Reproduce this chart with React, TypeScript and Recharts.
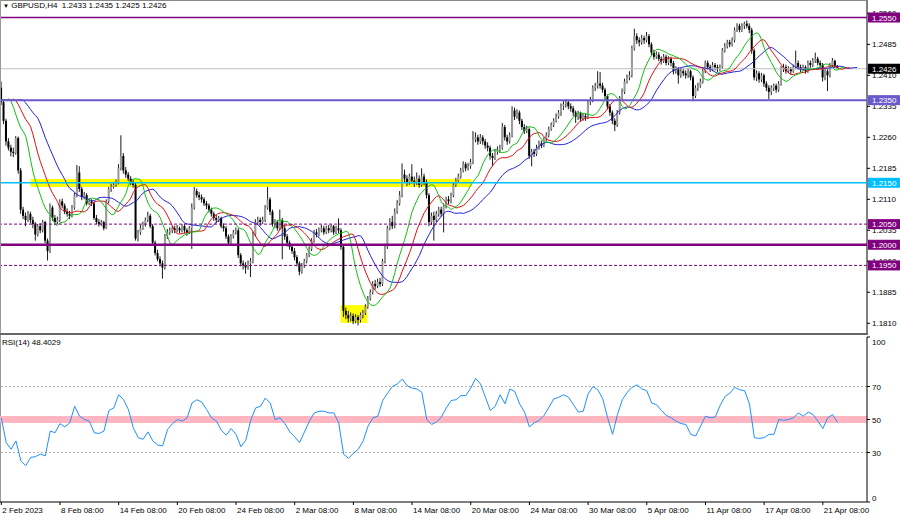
import React from 'react';
import { ComposedChart, Bar, Line, XAxis, YAxis, ReferenceLine, ReferenceArea } from 'recharts';

const symbolName = 'GBPUSD,H4';
const firstOpen = 1.238;

const closes = [
  1.2345,1.2300,1.2250,1.2235,1.2225,1.2222,1.2258,1.2180,1.2085,1.2070,
  1.2060,1.2075,1.2060,1.2050,1.2025,1.2045,1.2035,1.2055,1.2010,1.1985,
  1.2090,1.2065,1.2055,1.2060,1.2105,1.2095,1.2080,1.2075,1.2070,1.2090,
  1.2120,1.2175,1.2135,1.2115,1.2120,1.2100,1.2105,1.2100,1.2065,1.2055,
  1.2050,1.2055,1.2040,1.2105,1.2135,1.2140,1.2145,1.2150,1.2185,1.2215,
  1.2180,1.2170,1.2160,1.2150,1.2145,1.2015,1.2030,1.2040,1.2050,1.2060,
  1.2070,1.2045,1.2005,1.1980,1.1965,1.1955,1.1945,1.2020,1.2030,1.2035,
  1.2040,1.2035,1.2040,1.2035,1.2045,1.2035,1.2030,1.2040,1.2090,1.2130,
  1.2120,1.2115,1.2110,1.2100,1.2095,1.2085,1.2075,1.2065,1.2060,1.2065,
  1.2045,1.2040,1.2020,1.2005,1.2020,1.2030,1.2035,1.1975,1.1955,1.1950,
  1.1945,1.1955,1.1960,1.2025,1.2055,1.2060,1.2055,1.2060,1.2090,1.2110,
  1.2080,1.2050,1.2055,1.2040,1.2060,1.2040,1.2020,1.2005,1.1995,1.1985,
  1.1970,1.1955,1.1935,1.1950,1.1960,1.1975,1.1990,1.2010,1.2030,1.2025,
  1.2035,1.2040,1.2030,1.2040,1.2035,1.2045,1.2030,1.2040,1.2035,1.1995,
  1.1840,1.1830,1.1822,1.1828,1.1815,1.1825,1.1818,1.1830,1.1835,1.1850,
  1.1870,1.1885,1.1905,1.1900,1.1910,1.1905,1.1960,1.1995,1.2040,1.2055,
  1.2045,1.2080,1.2100,1.2120,1.2170,1.2160,1.2150,1.2165,1.2155,1.2150,
  1.2160,1.2145,1.2165,1.2150,1.2120,1.2055,1.2070,1.2060,1.2075,1.2085,
  1.2075,1.2095,1.2110,1.2105,1.2120,1.2145,1.2155,1.2165,1.2180,1.2195,
  1.2185,1.2190,1.2200,1.2255,1.2260,1.2250,1.2260,1.2250,1.2240,1.2235,
  1.2215,1.2210,1.2225,1.2230,1.2235,1.2285,1.2260,1.2250,1.2265,1.2325,
  1.2310,1.2320,1.2300,1.2285,1.2275,1.2280,1.2215,1.2225,1.2220,1.2235,
  1.2245,1.2240,1.2255,1.2265,1.2280,1.2290,1.2300,1.2310,1.2320,1.2335,
  1.2340,1.2345,1.2335,1.2330,1.2320,1.2310,1.2318,1.2305,1.2312,1.2308,
  1.2345,1.2350,1.2380,1.2385,1.2390,1.2385,1.2375,1.2360,1.2335,1.2320,
  1.2300,1.2290,1.2320,1.2355,1.2370,1.2395,1.2405,1.2410,1.2475,1.2505,
  1.2495,1.2490,1.2500,1.2495,1.2505,1.2485,1.2465,1.2455,1.2460,1.2450,
  1.2445,1.2455,1.2440,1.2450,1.2440,1.2420,1.2425,1.2410,1.2420,1.2415,
  1.2410,1.2420,1.2405,1.2360,1.2380,1.2385,1.2395,1.2420,1.2440,1.2430,
  1.2425,1.2435,1.2430,1.2425,1.2430,1.2470,1.2480,1.2490,1.2485,1.2495,
  1.2520,1.2530,1.2520,1.2530,1.2535,1.2530,1.2520,1.2470,1.2405,1.2415,
  1.2400,1.2410,1.2390,1.2380,1.2370,1.2380,1.2385,1.2375,1.2390,1.2425,
  1.2430,1.2420,1.2425,1.2420,1.2430,1.2440,1.2430,1.2425,1.2430,1.2420,
  1.2440,1.2435,1.2445,1.2450,1.2440,1.2435,1.2405,1.2420,1.2410,1.2435,
  1.2445,1.2433,1.2426,
];

const highs = [
  1.2395,1.2352,1.2305,1.2258,1.2242,1.2235,1.2263,1.2262,1.2186,1.2092,
  1.2078,1.2082,1.2080,1.2068,1.2055,1.2050,1.2052,1.2060,1.2058,1.2015,
  1.2100,1.2095,1.2072,1.2068,1.2110,1.2112,1.2100,1.2088,1.2082,1.2096,
  1.2126,1.2193,1.2190,1.2140,1.2128,1.2125,1.2112,1.2110,1.2104,1.2072,
  1.2062,1.2060,1.2058,1.2110,1.2140,1.2148,1.2152,1.2158,1.2195,1.2265,
  1.2222,1.2188,1.2176,1.2166,1.2158,1.2150,1.2036,1.2048,1.2056,1.2066,
  1.2080,1.2075,1.2050,1.2010,1.1988,1.1972,1.1962,1.2026,1.2038,1.2042,
  1.2046,1.2046,1.2048,1.2044,1.2050,1.2050,1.2040,1.2045,1.2100,1.2140,
  1.2136,1.2128,1.2122,1.2115,1.2106,1.2100,1.2090,1.2080,1.2072,1.2070,
  1.2068,1.2052,1.2045,1.2025,1.2026,1.2036,1.2042,1.2040,1.1980,1.1962,
  1.1958,1.1962,1.1968,1.2032,1.2062,1.2068,1.2066,1.2068,1.2096,1.2140,
  1.2115,1.2085,1.2062,1.2060,1.2085,1.2065,1.2048,1.2026,1.2010,1.2000,
  1.1992,1.1975,1.1960,1.1956,1.1966,1.1980,1.1996,1.2016,1.2036,1.2038,
  1.2042,1.2048,1.2046,1.2046,1.2048,1.2050,1.2048,1.2046,1.2064,1.2040,
  1.1998,1.1848,1.1840,1.1836,1.1834,1.1832,1.1830,1.1836,1.1842,1.1856,
  1.1876,1.1892,1.1912,1.1915,1.1918,1.1920,1.1966,1.2002,1.2046,1.2064,
  1.2070,1.2088,1.2108,1.2130,1.2197,1.2182,1.2168,1.2172,1.2195,1.2165,
  1.2175,1.2168,1.2185,1.2172,1.2158,1.2125,1.2078,1.2080,1.2082,1.2092,
  1.2092,1.2100,1.2116,1.2118,1.2126,1.2152,1.2162,1.2172,1.2186,1.2202,
  1.2200,1.2198,1.2208,1.2275,1.2272,1.2266,1.2268,1.2265,1.2256,1.2248,
  1.2240,1.2222,1.2232,1.2238,1.2242,1.2295,1.2290,1.2266,1.2272,1.2335,
  1.2332,1.2328,1.2325,1.2305,1.2292,1.2288,1.2284,1.2232,1.2232,1.2242,
  1.2252,1.2252,1.2260,1.2272,1.2286,1.2296,1.2306,1.2318,1.2326,1.2342,
  1.2348,1.2352,1.2350,1.2342,1.2336,1.2325,1.2324,1.2322,1.2318,1.2318,
  1.2350,1.2358,1.2386,1.2392,1.2420,1.2418,1.2392,1.2380,1.2364,1.2340,
  1.2325,1.2306,1.2326,1.2360,1.2378,1.2402,1.2412,1.2420,1.2482,1.2523,
  1.2512,1.2502,1.2508,1.2506,1.2515,1.2510,1.2490,1.2472,1.2468,1.2466,
  1.2456,1.2462,1.2460,1.2456,1.2455,1.2445,1.2432,1.2430,1.2428,1.2426,
  1.2422,1.2428,1.2424,1.2410,1.2386,1.2392,1.2402,1.2426,1.2446,1.2446,
  1.2436,1.2442,1.2440,1.2436,1.2436,1.2476,1.2488,1.2496,1.2496,1.2502,
  1.2526,1.2536,1.2535,1.2536,1.2540,1.2543,1.2536,1.2525,1.2475,1.2422,
  1.2420,1.2416,1.2414,1.2396,1.2386,1.2386,1.2390,1.2390,1.2396,1.2432,
  1.2438,1.2436,1.2432,1.2430,1.2436,1.2470,1.2446,1.2436,1.2436,1.2434,
  1.2446,1.2446,1.2452,1.2465,1.2455,1.2446,1.2440,1.2426,1.2426,1.2440,
  1.2452,1.2448,1.2435,
];

const lows = [
  1.2338,1.2292,1.2240,1.2228,1.2214,1.2212,1.2218,1.2172,1.2075,1.2062,
  1.2045,1.2055,1.2052,1.2040,1.2010,1.2020,1.2028,1.2030,1.2004,1.1962,
  1.1980,1.2058,1.2048,1.2050,1.2055,1.2088,1.2074,1.2068,1.2062,1.2066,
  1.2085,1.2115,1.2128,1.2108,1.2110,1.2095,1.2096,1.2094,1.2060,1.2050,
  1.2044,1.2046,1.2035,1.2038,1.2100,1.2128,1.2136,1.2140,1.2146,1.2180,
  1.2172,1.2162,1.2154,1.2144,1.2138,1.2010,1.2008,1.2024,1.2036,1.2044,
  1.2055,1.2040,1.1998,1.1974,1.1960,1.1948,1.1918,1.1940,1.2014,1.2024,
  1.2028,1.2028,1.2030,1.2028,1.2030,1.2028,1.2022,1.2026,1.1990,1.2085,
  1.2114,1.2108,1.2102,1.2094,1.2086,1.2078,1.2068,1.2058,1.2052,1.2055,
  1.2040,1.2032,1.2014,1.1998,1.2000,1.2015,1.2025,1.1968,1.1948,1.1940,
  1.1930,1.1940,1.1922,1.1955,1.2020,1.2048,1.2046,1.2050,1.2055,1.2085,
  1.2072,1.2044,1.2040,1.2034,1.2035,1.1965,1.2012,1.1996,1.1988,1.1978,
  1.1962,1.1948,1.1926,1.1930,1.1944,1.1955,1.1970,1.1985,1.2005,1.2018,
  1.2020,1.2030,1.2024,1.2026,1.2028,1.2030,1.2024,1.2026,1.2028,1.1988,
  1.1825,1.1820,1.1812,1.1815,1.1808,1.1810,1.1805,1.1812,1.1822,1.1830,
  1.1845,1.1865,1.1880,1.1892,1.1895,1.1898,1.1900,1.1955,1.1990,1.2035,
  1.2038,1.2040,1.2075,1.2095,1.2115,1.2152,1.2142,1.2145,1.2148,1.2140,
  1.2145,1.2138,1.2140,1.2144,1.2112,1.2045,1.2048,1.2010,1.2055,1.2068,
  1.2068,1.2030,1.2088,1.2098,1.2100,1.2115,1.2140,1.2150,1.2160,1.2175,
  1.2178,1.2180,1.2184,1.2195,1.2248,1.2242,1.2244,1.2242,1.2232,1.2226,
  1.2206,1.2190,1.2205,1.2218,1.2222,1.2230,1.2252,1.2242,1.2245,1.2260,
  1.2302,1.2305,1.2292,1.2278,1.2268,1.2270,1.2208,1.2190,1.2212,1.2215,
  1.2230,1.2234,1.2236,1.2250,1.2260,1.2276,1.2285,1.2296,1.2305,1.2312,
  1.2326,1.2332,1.2328,1.2322,1.2312,1.2295,1.2302,1.2298,1.2300,1.2300,
  1.2304,1.2338,1.2345,1.2372,1.2378,1.2378,1.2368,1.2352,1.2328,1.2312,
  1.2292,1.2275,1.2285,1.2315,1.2350,1.2365,1.2390,1.2398,1.2405,1.2470,
  1.2486,1.2480,1.2484,1.2486,1.2490,1.2478,1.2458,1.2448,1.2450,1.2444,
  1.2436,1.2440,1.2434,1.2435,1.2432,1.2412,1.2414,1.2390,1.2404,1.2408,
  1.2402,1.2404,1.2398,1.2350,1.2355,1.2372,1.2380,1.2390,1.2415,1.2424,
  1.2418,1.2420,1.2422,1.2418,1.2420,1.2426,1.2465,1.2475,1.2478,1.2480,
  1.2490,1.2515,1.2514,1.2515,1.2522,1.2524,1.2512,1.2462,1.2398,1.2396,
  1.2392,1.2394,1.2382,1.2372,1.2352,1.2362,1.2372,1.2368,1.2370,1.2385,
  1.2418,1.2414,1.2415,1.2412,1.2416,1.2425,1.2424,1.2418,1.2420,1.2414,
  1.2416,1.2428,1.2430,1.2440,1.2434,1.2428,1.2395,1.2398,1.2372,1.2405,
  1.2430,1.2428,1.2425,
];

// RSI(14) read every second bar
const rsiStep = 2;
const rsi14 = [
  51,36,32,37,25,22,27,27.5,29,28,
  43,42,47.5,45.5,48,58,52,50,49,42,
  41.5,43,55.5,57,65,62,56,45,39,38,
  42.5,37,34.5,34,44,47.5,50,49,51,60,
  62,60.5,56,51,49,43.5,40.5,44.5,41,33.5,
  37.5,49.5,57,58,63,60,50,51,47.5,42.5,
  39.5,36,42.5,49,54,55,55,54,54,48,
  29,26.5,29.5,32,37,46,51,52,61.5,66,
  70,71.5,74.5,70.5,69,68.5,66.5,50,47,48.5,
  51.5,57,61.5,62,64.5,64.5,69,75,71.5,63.5,
  55.5,58,65,59.5,68.5,67,59.5,54.5,45.5,48,
  49.5,52.5,57.5,62.5,63.5,65,63.5,59,54.5,55,
  65.5,70,68,62.5,51,41,53,62,66.5,69.5,
  71,68.5,67.5,60,59,55.5,52.5,51,49,47.5,
  47,41,40,46,52,51,51.5,58.5,64,66,
  69.5,68,67.5,59.5,39,38.5,39,41,41,50,
  49.5,50,51,54,52,54.5,53,49,44.5,51,
  53,48.4029,
];

const alligatorStart = 1.235;
const levelPrices = [1.255, 1.235, 1.215, 1.205, 1.2, 1.195];
const zoneBars = [[12, 192.4], [138.8, 149.7]];
const zonePrices = [[1.2140, 1.2159], [1.1811, 1.1854]];

const timeTickBars = [0, 24, 48, 72, 96, 120, 144, 168, 192, 216, 240, 264, 288, 312, 336];
const timeTickLabels = ['2 Feb 2023', '8 Feb 08:00', '14 Feb 08:00', '20 Feb 08:00', '24 Feb 08:00', '2 Mar 08:00', '8 Mar 08:00', '14 Mar 08:00', '20 Mar 08:00', '24 Mar 08:00', '30 Mar 08:00', '5 Apr 08:00', '11 Apr 08:00', '17 Apr 08:00', '21 Apr 08:00'];
const priceTicks = [1.181, 1.1885, 1.196, 1.2035, 1.211, 1.2185, 1.226, 1.2335, 1.241, 1.2485, 1.256];
const rsiTicks = [0, 30, 50, 70, 100];

// ---- derived ----
const FONT = '"Liberation Sans", Arial, sans-serif';
const X_DOMAIN: [number, number] = [-0.532, 354.07];
const PRICE_DOMAIN: [number, number] = [1.178407, 1.259235];

function smma(values: number[], period: number, seed: number): number[] {
  const out: number[] = [];
  let prev = seed;
  for (const v of values) {
    prev = (prev * (period - 1) + v) / period;
    out.push(prev);
  }
  return out;
}
const medians = highs.map((h, i) => (h + lows[i]) / 2);
const jawRaw = smma(medians, 13, alligatorStart);
const teethRaw = smma(medians, 8, alligatorStart);
const lipsRaw = smma(medians, 5, alligatorStart);
const shifted = (raw: number[], i: number, s: number) => (i - s < 0 ? alligatorStart : raw[i - s]);

const lastIdx = closes.length - 1;
const priceData = Array.from({ length: closes.length + 8 }, (_, i) => ({
  i,
  open: i <= lastIdx ? (i === 0 ? firstOpen : closes[i - 1]) : undefined,
  high: highs[i],
  low: lows[i],
  close: closes[i],
  jaw: shifted(jawRaw, i, 8),
  teeth: shifted(teethRaw, i, 5),
  lips: shifted(lipsRaw, i, 3),
}));
const rsiData = rsi14.map((v, k) => ({ i: k * rsiStep, rsi: v }));
const lastClose = closes[lastIdx];
const header = `${symbolName}  ${closes[lastIdx - 1].toFixed(4)} ${highs[lastIdx].toFixed(4)} ${lows[lastIdx].toFixed(4)} ${lastClose.toFixed(4)}`;

const levelStyles = [
  { color: '#800080', width: 1.5, dash: undefined as string | undefined, tag: '#800080' },
  { color: '#6A5ACD', width: 2, dash: undefined, tag: '#6A5ACD' },
  { color: '#00BFFF', width: 1.5, dash: undefined, tag: '#00BFFF' },
  { color: '#800080', width: 1, dash: '3 2', tag: '#800080' },
  { color: '#800080', width: 2.5, dash: undefined, tag: '#800080' },
  { color: '#800080', width: 1, dash: '3 2', tag: '#800080' },
];

const Candle = (props: any) => {
  const { x, y, width, height, payload } = props;
  if (!payload || payload.high == null) return null;
  const { open, close, high, low } = payload;
  const top0 = height >= 0 ? y : y + height;
  const h = Math.abs(height);
  const span = high - low || 1e-9;
  const py = (p: number) => top0 + ((high - p) / span) * h;
  const cx = x + width / 2;
  const bTop = py(Math.max(open, close));
  const bBot = py(Math.min(open, close));
  const bull = close >= open;
  return (
    <g>
      <line x1={cx} x2={cx} y1={top0} y2={top0 + h} stroke="#1a1a1a" strokeWidth={1} />
      <rect x={x} y={bTop} width={width} height={Math.max(bBot - bTop, 1)} fill={bull ? '#9a9a9a' : '#000'} />
    </g>
  );
};

const Tag = ({ viewBox, text, bg }: any) => {
  if (!viewBox) return null;
  const { x, y, width } = viewBox;
  return (
    <g>
      <rect x={x + width + 1} y={y - 5} width={33} height={10} fill={bg} />
      <text x={x + width + 5} y={y + 3} fontSize={8} fill="#fff" fontFamily={FONT}>{text}</text>
    </g>
  );
};

const PriceTick = ({ x, y, payload }: any) => (
  <text x={x} y={y} dy={3} fontSize={8} fill="#000" fontFamily={FONT} textAnchor="start">{Number(payload.value).toFixed(4)}</text>
);

const RsiTick = ({ x, y, payload }: any) => {
  const v = payload.value;
  const dy = v === 100 ? 8 : v === 0 ? -1 : 3;
  return <text x={x} y={y} dy={dy} fontSize={8} fill="#000" fontFamily={FONT} textAnchor="start">{v}</text>;
};

const TimeTick = ({ x, y, payload }: any) => {
  const k = timeTickBars.indexOf(payload.value);
  return <text x={x + 1} y={y} dy={6} fontSize={8} fill="#000" fontFamily={FONT} textAnchor="start">{timeTickLabels[k]}</text>;
};

export default function App() {
  return (
    <div style={{ position: 'absolute', left: 0, top: 0, width: 900, height: 518, background: '#fff', overflow: 'hidden', fontFamily: FONT }}>
      {/* price panel */}
      <div style={{ position: 'absolute', left: 0, top: 0 }}>
        <ComposedChart width={900} height={334} data={priceData} margin={{ top: 0, right: 0, bottom: 0, left: 0 }}>
          <XAxis type="number" dataKey="i" domain={X_DOMAIN} allowDataOverflow hide />
          <YAxis orientation="right" type="number" domain={PRICE_DOMAIN} allowDataOverflow ticks={priceTicks} interval={0}
            width={33} tickSize={3} tickMargin={2} stroke="#000" tick={<PriceTick />} />
          {zoneBars.map((b, k) => (
            <ReferenceArea key={k} x1={b[0]} x2={b[1]} y1={zonePrices[k][0]} y2={zonePrices[k][1]} fill="#FFFF00" fillOpacity={1} stroke="none" />
          ))}
          <ReferenceLine y={lastClose} stroke="#c0c0c0" strokeWidth={1} />
          <Bar dataKey={(d: any) => (d.high == null ? null : [d.low, d.high])} shape={<Candle />} barSize={2} isAnimationActive={false} />
          <Line dataKey="jaw" stroke="#2020e0" strokeWidth={1} dot={false} isAnimationActive={false} />
          <Line dataKey="teeth" stroke="#e01010" strokeWidth={1} dot={false} isAnimationActive={false} />
          <Line dataKey="lips" stroke="#10c010" strokeWidth={1} dot={false} isAnimationActive={false} />
        </ComposedChart>
      </div>
      {/* price level overlay */}
      <div style={{ position: 'absolute', left: 0, top: 0, pointerEvents: 'none' }}>
        <ComposedChart width={900} height={334} data={priceData} margin={{ top: 0, right: 0, bottom: 0, left: 0 }}>
          <XAxis type="number" dataKey="i" domain={X_DOMAIN} allowDataOverflow hide />
          <YAxis orientation="right" type="number" domain={PRICE_DOMAIN} allowDataOverflow width={33} tick={false} axisLine={false} tickLine={false} />
          {levelPrices.map((p, k) => (
            <ReferenceLine key={k} y={p} stroke={levelStyles[k].color} strokeWidth={levelStyles[k].width} strokeDasharray={levelStyles[k].dash}
              label={(lp: any) => <Tag viewBox={lp.viewBox} text={p.toFixed(4)} bg={levelStyles[k].tag} />} />
          ))}
          <ReferenceLine y={lastClose} stroke="none" label={(lp: any) => <Tag viewBox={lp.viewBox} text={lastClose.toFixed(4)} bg="#000" />} />
        </ComposedChart>
      </div>
      <div style={{ position: 'absolute', left: 3, top: 1, fontSize: 8, lineHeight: '10px', color: '#000', whiteSpace: 'pre' }}>
        <span style={{ fontSize: 6 }}>▼</span> {header}
      </div>
      {/* frame */}
      <div style={{ position: 'absolute', left: 0, top: 0, width: 867, height: 1, background: '#888' }} />
      <div style={{ position: 'absolute', left: 0, top: 0, width: 1, height: 502, background: '#999' }} />
      <div style={{ position: 'absolute', left: 0, top: 333, width: 868, height: 2, background: '#666' }} />
      {/* RSI panel */}
      <div style={{ position: 'absolute', left: 0, top: 335 }}>
        <ComposedChart width={900} height={183} data={rsiData} margin={{ top: 2, right: 0, bottom: 0, left: 0 }}>
          <XAxis type="number" dataKey="i" domain={X_DOMAIN} allowDataOverflow ticks={timeTickBars} interval={0} height={16}
            tickSize={3} tickMargin={2} stroke="#000" tick={<TimeTick />} />
          <YAxis orientation="right" type="number" domain={[0, 100]} allowDataOverflow ticks={rsiTicks} interval={0} width={33}
            tickSize={3} tickMargin={2} stroke="#000" tick={<RsiTick />} />
          <ReferenceLine y={50} stroke="#FFB6C1" strokeWidth={7} />
          <ReferenceLine y={70} stroke="#b4b4b4" strokeDasharray="2 2" />
          <ReferenceLine y={30} stroke="#b4b4b4" strokeDasharray="2 2" />
          <Line dataKey="rsi" stroke="#1E90FF" strokeWidth={1} dot={false} isAnimationActive={false} />
        </ComposedChart>
      </div>
      <div style={{ position: 'absolute', left: 2, top: 338, fontSize: 8, lineHeight: '10px', color: '#000', whiteSpace: 'pre' }}>
        {`RSI(14) ${rsi14[rsi14.length - 1].toFixed(4)}`}
      </div>
    </div>
  );
}
